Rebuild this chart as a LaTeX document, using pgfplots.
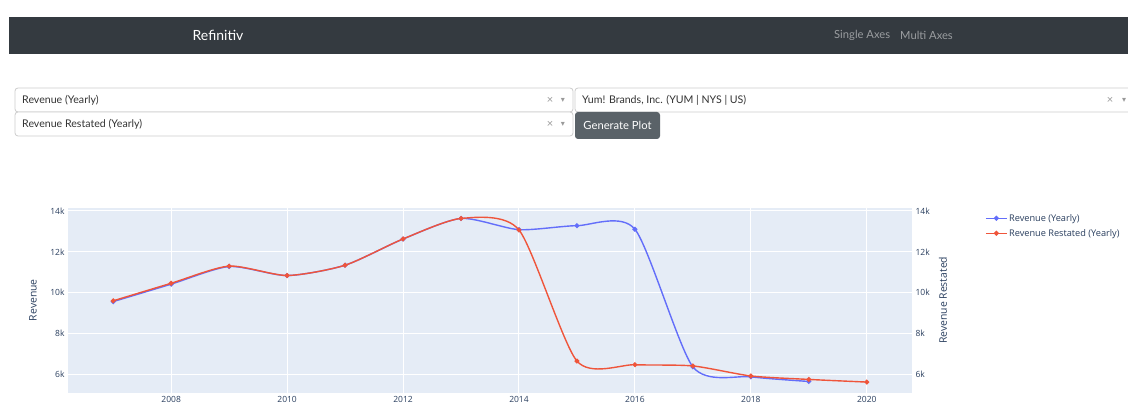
\documentclass[border=0pt]{standalone}
\usepackage{pgfplots}
\pgfplotsset{compat=1.18}
\usepackage{fontspec}
\setmainfont{Open Sans}
\newfontfamily\uifont{Lato}
\newfontfamily\symfont{DejaVu Sans}
\definecolor{plotbg}{HTML}{E5ECF6}
\definecolor{pblue}{HTML}{636EFA}
\definecolor{pred}{HTML}{EF553B}
\definecolor{plotfont}{HTML}{2A3F5F}
\definecolor{navbar}{HTML}{343A40}
\definecolor{navlink}{HTML}{9A9DA0}
\definecolor{ddborder}{HTML}{CCCCCC}
\definecolor{ddtext}{HTML}{333333}
\definecolor{ddicon}{HTML}{999999}
\definecolor{btn}{HTML}{5A6268}

\pgfplotstableread{
year value
2007 9561
2008 10416
2009 11279
2010 10836
2011 11343
2012 12626
2013 13633
2014 13084
2015 13279
2016 13105
2017 6366
2018 5878
2019 5650
}\revenue

\pgfplotstableread{
year value
2007 9600
2008 10460
2009 11300
2010 10840
2011 11343
2012 12630
2013 13633
2014 13070
2015 6650
2016 6470
2017 6410
2018 5920
2019 5750
2020 5620
}\restated

\pgfplotsset{
  blueplot/.style={color=pblue, line width=1.4pt, mark=*, mark size=1.7pt, mark options={solid}, smooth, tension=0.42},
  redplot/.style={color=pred, line width=1.4pt, mark=*, mark size=1.7pt, mark options={solid}, smooth, tension=0.42},
  common/.style={
    at={(68pt,11.3pt)}, anchor=south west,
    scale only axis, width=844pt, height=185pt,
    xmin=2006.22, xmax=2020.78, ymin=5100, ymax=14160,
    scaled y ticks=false, scaled x ticks=false,
    axis line style={draw=none},
    tick style={draw=none},
    xtick={2008,2010,2012,2014,2016,2018,2020},
    xticklabels={2008,2010,2012,2014,2016,2018,2020},
    ytick={6000,8000,10000,12000,14000},
    yticklabels={6k,8k,10k,12k,14k},
    ticklabel style={font=\fontsize{8.5}{10}\selectfont, text=plotfont},
    /pgf/number format/assume math mode=true,
  },
}

\begin{document}
\begin{tikzpicture}[x=1pt,y=1pt]
\clip (0,0) rectangle (1128,404);
\fill[white] (0,0) rectangle (1128,404);
% navbar
\fill[navbar] (9,350) rectangle (1128,387);
\node[text=white, font=\uifont\fontsize{14}{16}\selectfont] at (218,368.5) {Refinitiv};
\node[anchor=west, inner sep=0pt, text=navlink, font=\uifont\fontsize{11.2}{13}\selectfont] at (834,368.5) {Single Axes};
\node[anchor=west, inner sep=0pt, text=navlink, font=\uifont\fontsize{11.2}{13}\selectfont] at (900,368.5) {Multi Axes};
% dropdowns
\draw[ddborder, fill=white, rounded corners=3pt, line width=0.8pt] (15,292) rectangle (573,316);
\draw[ddborder, fill=white, rounded corners=3pt, line width=0.8pt] (575,292) rectangle (1140,316);
\draw[ddborder, fill=white, rounded corners=3pt, line width=0.8pt] (15,268) rectangle (573,292);
\node[anchor=west, inner sep=0pt, text=ddtext, font=\uifont\fontsize{10.6}{12}\selectfont] at (22,304) {Revenue (Yearly)};
\node[anchor=west, inner sep=0pt, text=ddtext, font=\uifont\fontsize{10.6}{12}\selectfont] at (582,304) {Yum! Brands, Inc. (YUM | NYS | US)};
\node[anchor=west, inner sep=0pt, text=ddtext, font=\uifont\fontsize{10.6}{12}\selectfont] at (22,280) {Revenue Restated (Yearly)};
\node[text=ddicon, inner sep=0pt, font=\uifont\fontsize{11}{12}\selectfont] at (550,304) {×};
\node[text=ddicon, inner sep=0pt, font=\symfont\fontsize{8}{10}\selectfont] at (563,304) {▾};
\node[text=ddicon, inner sep=0pt, font=\uifont\fontsize{11}{12}\selectfont] at (550,280) {×};
\node[text=ddicon, inner sep=0pt, font=\symfont\fontsize{8}{10}\selectfont] at (563,280) {▾};
\node[text=ddicon, inner sep=0pt, font=\uifont\fontsize{11}{12}\selectfont] at (1110,304) {×};
\node[text=ddicon, inner sep=0pt, font=\symfont\fontsize{8}{10}\selectfont] at (1124,304) {▾};
% button
\fill[btn, rounded corners=3pt] (575,265) rectangle (660,292);
\node[text=white, font=\uifont\fontsize{11.2}{13}\selectfont] at (617.5,278.5) {Generate Plot};

% left axis (Revenue)
\begin{axis}[common,
  axis background/.style={fill=plotbg},
  grid=major, major grid style={white, line width=1pt},
  ylabel={Revenue},
  every axis y label/.style={at={(axis description cs:-0.0415,0.5)}, rotate=90, anchor=center,
    font=\fontsize{10.4}{12}\selectfont, text=plotfont},
]
\addplot[blueplot] table[x=year, y=value] {\revenue};
\end{axis}

% right axis (Revenue Restated)
\begin{axis}[common,
  axis x line=none,
  axis y line*=right,
  ylabel={Revenue Restated},
  every axis y label/.style={at={(axis description cs:1.0368,0.5)}, rotate=90, anchor=center,
    font=\fontsize{10.4}{12}\selectfont, text=plotfont},
  legend style={at={(axis description cs:1.0865,0.975)}, anchor=north west, draw=none, fill=none,
    font=\fontsize{9.2}{11}\selectfont, text=plotfont, inner sep=0pt, row sep=3.5pt,
    nodes={inner sep=1.5pt}},
  legend cell align=left,
  legend image code/.code={\draw[#1, mark repeat=2, mark phase=2] plot coordinates {(0pt,0pt) (10.5pt,0pt) (21pt,0pt)};},
]
\addlegendimage{blueplot}
\addlegendentry{Revenue (Yearly)}
\addplot[redplot] table[x=year, y=value] {\restated};
\addlegendentry{Revenue Restated (Yearly)}
\end{axis}
\end{tikzpicture}
\end{document}
